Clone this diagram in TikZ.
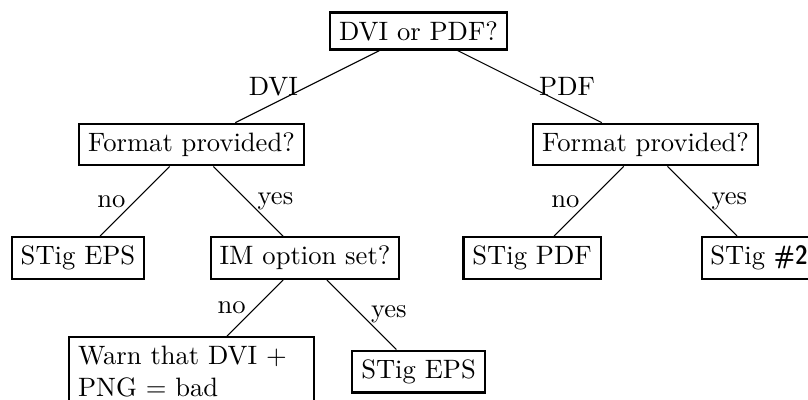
\documentclass[tikz,border=0pt]{standalone}
\begin{document}
\begin{tikzpicture}[
  box/.style={draw, thick},
  wbox/.style={draw, thick, text width=3cm, align=left},
  conn/.style={draw, line width=0.4pt},
  lbl/.style={draw=none}
]
\useasboundingbox (-5.531,-4.863) rectangle (5.147,0.410);
\node[box] (root) at (0,0) {DVI or PDF?};
\node[box] (fl) at (-3,-1.5) {Format provided?};
\node[box] (fr) at (3,-1.5) {Format provided?};
\node[box] (eps1) at (-4.5,-3) {STig EPS};
\node[box] (im) at (-1.5,-3) {IM option set?};
\node[box] (pdf) at (1.5,-3) {STig PDF};
\node[box] (st2) at (4.5,-3) {STig {\sffamily\fontseries{sbc}\selectfont\#2}};
\node[wbox] (warn) at (-3,-4.5) {Warn that DVI + PNG = bad};
\node[box] (eps2) at (0,-4.5) {STig EPS};
\draw[conn] (root) -- node[lbl,left] (ldvi) {DVI} (fl);
\draw[conn] (root) -- node[lbl,right] (lpdf) {PDF} (fr);
\draw[conn] (fl) -- node[lbl,left] (lno1) {no} (eps1);
\draw[conn] (fl) -- node[lbl,right] (lyes1) {yes} (im);
\draw[conn] (fr) -- node[lbl,left] (lno2) {no} (pdf);
\draw[conn] (fr) -- node[lbl,right] (lyes2) {yes} (st2);
\draw[conn] (im) -- node[lbl,left] (lno3) {no} (warn);
\draw[conn] (im) -- node[lbl,right] (lyes3) {yes} (eps2);
\end{tikzpicture}
\end{document}
